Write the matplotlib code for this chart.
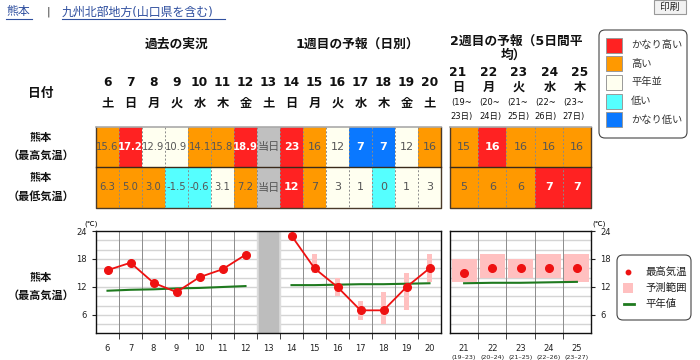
import matplotlib
matplotlib.use('Agg')
import matplotlib.pyplot as plt
import numpy as np
from matplotlib.patches import Rectangle, FancyBboxPatch

plt.rcParams['font.family'] = ['DejaVu Sans', 'Noto Sans CJK JP']

W, H = 700, 360

# ---- data ----
days1 = [6, 7, 8, 9, 10, 11, 12, 13, 14, 15, 16, 17, 18, 19, 20]
wd1 = ['土', '日', '月', '火', '水', '木', '金', '土', '日', '月', '火', '水', '木', '金', '土']
max_txt1 = ['15.6', '17.2', '12.9', '10.9', '14.1', '15.8', '18.9', '当日',
            '23', '16', '12', '7', '7', '12', '16']
max_cls1 = ['high', 'vhigh', 'normal', 'normal', 'high', 'high', 'vhigh', 'today',
            'vhigh', 'high', 'normal', 'vlow', 'vlow', 'normal', 'high']
min_txt1 = ['6.3', '5.0', '3.0', '-1.5', '-0.6', '3.1', '7.2', '当日',
            '12', '7', '3', '1', '0', '1', '3']
min_cls1 = ['high', 'high', 'high', 'low', 'low', 'normal', 'high', 'today',
            'vhigh', 'high', 'normal', 'normal', 'low', 'normal', 'normal']

days2 = [21, 22, 23, 24, 25]
wd2 = ['日', '月', '火', '水', '木']
span_from = [19, 20, 21, 22, 23]
span_to = [23, 24, 25, 26, 27]
max_txt2 = ['15', '16', '16', '16', '16']
max_cls2 = ['high', 'vhigh', 'high', 'high', 'high']
min_txt2 = ['5', '6', '6', '7', '7']
min_cls2 = ['high', 'high', 'high', 'vhigh', 'vhigh']

obs_days = [6, 7, 8, 9, 10, 11, 12]
obs_max = [15.6, 17.2, 12.9, 10.9, 14.1, 15.8, 18.9]
obs_norm = [11.2, 11.4, 11.5, 11.7, 11.8, 12.0, 12.2]

fc_days = [14, 15, 16, 17, 18, 19, 20]
fc_max = [23, 16, 12, 7, 7, 12, 16]
fc_lo = [np.nan, 15, 10, 5, 4, 7, 13]
fc_hi = [np.nan, 19, 14, 9, 11, 15, 19]
fc_norm = [12.4, 12.4, 12.5, 12.6, 12.6, 12.7, 12.8]

wk2_max = [15, 16, 16, 16, 16]
wk2_lo = [13, 14, 14, 14, 13]
wk2_hi = [18, 19, 18, 19, 19]
wk2_norm = [12.8, 12.9, 12.9, 13.0, 13.1]

legend_cls = ['vhigh', 'high', 'normal', 'low', 'vlow']
legend_txt = ['かなり高い', '高い', '平年並', '低い', 'かなり低い']

colors = {'vhigh': '#ff2222', 'high': '#ff9900', 'normal': '#fffff0',
          'low': '#55ffff', 'vlow': '#0a78ff', 'today': '#c0c0c0'}

fig = plt.figure(figsize=(7, 3.6), dpi=100)
bg = fig.add_axes([0, 0, 1, 1])
bg.set_xlim(0, W)
bg.set_ylim(H, 0)
bg.axis('off')


def px_rect(x0, y0, x1, y1):
    return [x0 / W, 1 - y1 / H, (x1 - x0) / W, (y1 - y0) / H]


# ---- top links / button ----
link = '#2f4f9f'
bg.text(6, 12, '熊本', color=link, fontsize=8.6, va='center')
bg.plot([6, 32], [19, 19], color=link, lw=0.8)
bg.text(48, 12, '|', color='#333', fontsize=8, va='center', ha='center')
bg.text(62, 12, '九州北部地方(山口県を含む)', color=link, fontsize=8.6, va='center')
bg.plot([62, 225], [19, 19], color=link, lw=0.8)
bg.add_patch(Rectangle((654, 0), 32, 14, facecolor='#f2f2f2', edgecolor='#999', lw=0.8))
bg.text(670, 7, '印刷', fontsize=7, ha='center', va='center', color='#222')

# ---- section titles ----
tk = dict(fontsize=9.2, fontweight='bold', ha='center', va='center', color='#111')
bg.text(177, 44, '過去の実況', **tk)
bg.text(357, 44, '1週目の予報（日別）', **tk)
bg.text(516, 41, '2週目の予報（5日間平', **tk)
bg.text(513, 55, '均）', **tk)
bg.text(41, 93, '日付', **tk)

# ---- table 1 ----
cw1, x1 = 23, 96
top, mid, bot = 127, 167, 208
hk = dict(fontsize=8.8, fontweight='bold', ha='center', va='center', color='#111')


def cell_text(cx, cy, txt, cls):
    white = cls in ('vhigh', 'vlow')
    fs = 7.2 if '.' in txt else 8
    bg.text(cx, cy, txt, fontsize=fs, ha='center', va='center',
            color='white' if white else '#555',
            fontweight='bold' if white else 'normal', zorder=3)


for i, d in enumerate(days1):
    cx = x1 + cw1 * i + cw1 / 2
    bg.text(cx, 83, str(d), **hk)
    bg.text(cx, 103, wd1[i], **hk)
    for y0, y1, txt, cls in [(top, mid, max_txt1[i], max_cls1[i]), (mid, bot, min_txt1[i], min_cls1[i])]:
        bg.add_patch(Rectangle((x1 + cw1 * i, y0), cw1, y1 - y0,
                               facecolor=colors[cls], edgecolor='none'))
        cell_text(cx, (y0 + y1) / 2, txt, cls)
    if i > 0:
        bg.plot([x1 + cw1 * i] * 2, [top, bot], color='#8a8a8a', lw=0.7, ls=(0, (2, 2)))

# ---- table 2 ----
cw2, x2 = 28.2, 450
for i, d in enumerate(days2):
    cx = x2 + cw2 * i + cw2 / 2
    bg.text(458 + 30.5 * i, 72, str(d), **hk)
    bg.text(458 + 30.5 * i, 87, wd2[i], **hk)
    bg.text(462 + 28 * i, 103, '(%d~' % span_from[i], fontsize=6, ha='center', va='center', color='#111')
    bg.text(462 + 28 * i, 116, '%d日)' % span_to[i], fontsize=6, ha='center', va='center', color='#111')
    for y0, y1, txt, cls in [(top, mid, max_txt2[i], max_cls2[i]), (mid, bot, min_txt2[i], min_cls2[i])]:
        bg.add_patch(Rectangle((x2 + cw2 * i, y0), cw2, y1 - y0,
                               facecolor=colors[cls], edgecolor='none'))
        cell_text(cx, (y0 + y1) / 2, txt, cls)
    if i > 0:
        bg.plot([x2 + cw2 * i] * 2, [top, bot], color='#8a8a8a', lw=0.7, ls=(0, (2, 2)))

for xa, xb in [(x1, x1 + cw1 * len(days1)), (x2, x2 + cw2 * len(days2))]:
    bg.plot([xa, xa, xb, xb], [top, bot, bot, top], color='#4a3a2a', lw=1)
    bg.plot([xa, xb], [top, top], color='#aaaaaa', lw=1.2)
    bg.plot([xa, xb], [mid, mid], color='#3a2a1a', lw=1)

# row labels
rk = dict(fontsize=8, fontweight='bold', ha='center', va='center', color='#111')
for yy, lab in [(138, '熊本'), (155, '（最高気温）'), (178, '熊本'), (196, '（最低気温）'),
                (278, '熊本'), (295, '（最高気温）')]:
    bg.text(41, yy, lab, **rk)

# ---- legend 1 ----
bg.add_patch(FancyBboxPatch((599, 30), 88, 108, boxstyle='round,pad=0,rounding_size=6',
                            facecolor='white', edgecolor='#444', lw=0.8))
for i, (cls, lab) in enumerate(zip(legend_cls, legend_txt)):
    yc = 45 + 18.7 * i
    bg.add_patch(Rectangle((606, yc - 7.5), 16, 15, facecolor=colors[cls], edgecolor='#999', lw=0.7))
    bg.text(631, yc, lab, fontsize=7.4, va='center', color='#333')

# ---- charts ----
pink = '#ffc0c0'
red = '#ee1111'
green = '#1f7a1f'
ylo, yhi = 2.14, 24


def style_axis(ax, x_lo, x_hi):
    ax.set_xlim(x_lo, x_hi)
    ax.set_ylim(ylo, yhi)
    for yv in np.arange(4, 24, 2):
        ax.axhline(yv, color='#d4d4d4', lw=1, zorder=0)
    for xv in np.arange(x_lo + 1, x_hi, 1):
        ax.axvline(xv, color='#8c8c8c', lw=0.7, zorder=0.5)
    ax.set_xticks(np.arange(x_lo + 1, x_hi, 1), minor=True)
    ax.tick_params(axis='x', which='minor', length=4, direction='out', color='#222')
    ax.tick_params(axis='x', which='major', length=0, labelsize=6, pad=8, colors='#222')
    ax.tick_params(axis='y', length=3, direction='out', labelsize=6, colors='#222')
    ax.set_yticks([6, 12, 18, 24])
    for s in ax.spines.values():
        s.set_color('#111')
        s.set_linewidth(1)


ax1 = fig.add_axes(px_rect(96, 231, 441, 333))
style_axis(ax1, 5.5, 20.5)
ax1.axvspan(12.5, 13.5, color='#dcdcdc', zorder=1)
ax1.axvspan(12.6, 13.4, color='#bdbdbd', zorder=1)
ax1.set_xticks(days1)
ax1.bar(fc_days, np.array(fc_hi) - np.array(fc_lo), bottom=fc_lo, width=0.26,
        color=pink, zorder=2)
ax1.plot(obs_days, obs_norm, color=green, lw=1.5, zorder=3)
ax1.plot(fc_days, fc_norm, color=green, lw=1.5, zorder=3)
ax1.plot(obs_days, obs_max, color=red, lw=1.3, marker='o', ms=5.5, zorder=4)
ax1.plot(fc_days, fc_max, color=red, lw=1.3, marker='o', ms=5.5, zorder=4)
ax1.text(-0.015, 1.04, '(℃)', transform=ax1.transAxes, fontsize=5, ha='center', va='bottom')

ax2 = fig.add_axes(px_rect(450, 231, 591, 333))
style_axis(ax2, 20.5, 25.5)
ax2.set_xticks(days2)
ax2.yaxis.tick_right()
ax2.bar(days2, np.array(wk2_hi) - np.array(wk2_lo), bottom=wk2_lo, width=0.88,
        color=pink, zorder=2)
ax2.plot(days2, wk2_norm, color=green, lw=1.5, zorder=3)
ax2.plot(days2, wk2_max, color=red, lw=0, marker='o', ms=5.5, zorder=4)
for i, d in enumerate(days2):
    ax2.text(d, -0.24, '(%d–%d)' % (span_from[i], span_to[i]), transform=ax2.get_xaxis_transform(),
             fontsize=4.6, ha='center', va='center', color='#222')
ax2.text(1.06, 1.04, '(℃)', transform=ax2.transAxes, fontsize=5, ha='center', va='bottom')

# ---- legend 2 ----
bg.add_patch(FancyBboxPatch((617, 255), 74, 65, boxstyle='round,pad=0,rounding_size=6',
                            facecolor='white', edgecolor='#444', lw=0.8))
bg.plot([628], [272], marker='o', color=red, ms=3.2, lw=0)
bg.add_patch(Rectangle((623, 283), 10, 10, facecolor=pink, edgecolor='none'))
bg.plot([624, 634], [304, 304], color=green, lw=2)
for yy, lab in [(272, '最高気温'), (288, '予測範囲'), (304, '平年値')]:
    bg.text(645, yy, lab, fontsize=7.5, va='center', color='#222')

fig.savefig('out.png', dpi=100)
